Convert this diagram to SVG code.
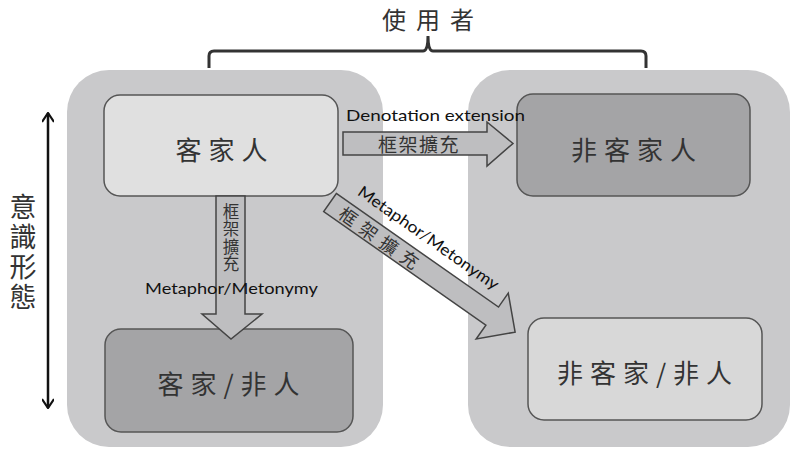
<svg xmlns="http://www.w3.org/2000/svg" width="790" height="450" viewBox="0 0 790 450">
<style>
.cont{fill:#c9c9cb}
.node{stroke:#555;stroke-width:1.5}
.light{fill:#e0e0e0}
.dark{fill:#a4a4a6}
.pale{fill:#d8d8d8}
.cjk{font-family:"Noto Sans CJK TC","Noto Sans CJK SC",sans-serif;fill:#333}
.big{font-size:26px;letter-spacing:7px}
.lat{font-family:Lato,"Liberation Sans",sans-serif;fill:#111;font-size:16px}
.arrow{fill:#bebec0;stroke:#444;stroke-width:1.5;stroke-linejoin:miter}
.vert{writing-mode:vertical-rl}
</style>
<defs>
<marker id="chev" viewBox="0 0 12 12" refX="11" refY="6" markerWidth="12" markerHeight="12" markerUnits="userSpaceOnUse" orient="auto-start-reverse">
<path d="M2,0 L11,6 L2,12" fill="none" stroke="#111" stroke-width="2.2"/>
</marker>
</defs>
<rect width="790" height="450" fill="#fff"/>
<g id="containers">
<rect class="cont" x="67" y="70" width="316" height="377" rx="42"/>
<rect class="cont" x="468" y="70" width="322" height="377" rx="42"/>
</g>
<g id="users">
<text class="cjk" x="433" y="18" font-size="24" letter-spacing="10" text-anchor="middle" dominant-baseline="central" fill="#222">使用者</text>
<path d="M209,68 V56 Q209,51 214,51 H423 Q428,51 428,36 Q428,51 433,51 H641 Q646,51 646,56 V68" fill="none" stroke="#333" stroke-width="3"/>
</g>
<g id="ideology">
<line x1="48" y1="113" x2="48" y2="408" stroke="#111" stroke-width="2.5" marker-start="url(#chev)" marker-end="url(#chev)"/>
<text class="cjk vert" x="23" y="193" font-size="27" letter-spacing="3" fill="#222">意識形態</text>
</g>
<g id="n1">
<rect class="node light" x="104" y="95" width="234" height="101" rx="16"/>
<text class="cjk big" x="225" y="148" text-anchor="middle" dominant-baseline="central">客家人</text>
</g>
<g id="n2">
<rect class="node dark" x="517" y="94" width="233" height="102" rx="16"/>
<text class="cjk big" x="637" y="148" text-anchor="middle" dominant-baseline="central">非客家人</text>
</g>
<g id="n3">
<rect class="node dark" x="105" y="329" width="248" height="103" rx="16"/>
<text class="cjk big" x="232" y="382" text-anchor="middle" dominant-baseline="central">客家/非人</text>
</g>
<g id="n4">
<rect class="node pale" x="528" y="318" width="234" height="102" rx="16"/>
<text class="cjk big" x="648" y="371" text-anchor="middle" dominant-baseline="central">非客家/非人</text>
</g>
<g id="connectors">
<g id="e-denotation">
<polygon class="arrow" points="343,132 487,132 487,122 513,143.5 487,166 487,155 343,155"/>
<text class="lat" x="346" y="121" font-size="17" textLength="179" lengthAdjust="spacingAndGlyphs">Denotation extension</text>
<text class="cjk" x="419" y="143" font-size="19" letter-spacing="1.5" text-anchor="middle" dominant-baseline="central">框架擴充</text>
</g>
<g id="e-down">
<polygon class="arrow" points="216,196 245,196 245,314 262,314 231,339 202,314 216,314"/>
<text class="cjk vert" x="231" y="203" font-size="16.5" letter-spacing="1">框架擴充</text>
<text class="lat" x="145" y="294" textLength="173" lengthAdjust="spacingAndGlyphs">Metaphor/Metonymy</text>
</g>
<g id="e-diag" transform="translate(330,202.5) rotate(35)">
<polygon class="arrow" points="0,-11 198,-11 198,-28 226,0 198,28 198,11 0,11"/>
<text class="cjk" x="64" y="0" font-size="18" letter-spacing="7" text-anchor="middle" dominant-baseline="central">框架擴充</text>
<text class="lat" x="17" y="-22" textLength="168" lengthAdjust="spacingAndGlyphs">Metaphor/Metonymy</text>
</g>
</g>
</svg>
